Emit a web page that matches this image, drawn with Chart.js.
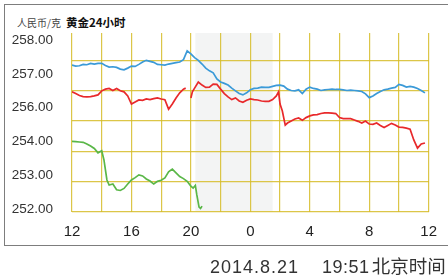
<!DOCTYPE html>
<html>
<head>
<meta charset="utf-8">
<script src="https://cdn.jsdelivr.net/npm/chart.js@4.4.0/dist/chart.umd.min.js"></script>
<style>
  html, body { margin: 0; padding: 0; background: #fff; }
  body { width: 448px; height: 277px; position: relative; overflow: hidden;
         font-family: "Liberation Sans", Arial, "Noto Sans CJK SC", sans-serif; }
  .frame { position: absolute; left: 4px; top: 4px; width: 470px; height: 240px;
           border: 1.5px solid #7d7d7d; border-right: none; }
  .title { position: absolute; left: 17px; top: 13px; white-space: nowrap; }
  .title .unit { font-size: 10px; color: #444; font-family: "Noto Sans CJK SC", sans-serif; }
  .title .name { font-size: 11.5px; color: #111; font-weight: bold; margin-left: 5px;
                 font-family: "Noto Sans CJK SC", sans-serif; }
  .stamp { position: absolute; left: 210px; top: 255px; font-size: 18px; line-height: 20px;
           color: #333; white-space: nowrap; }
  .stamp .date { letter-spacing: 1px; }
  .stamp .time { margin-left: 23px; letter-spacing: 0.5px; }
  .stamp .cn { margin-left: 2px; font-size: 18.5px; font-family: "Noto Sans CJK SC", sans-serif; }
  canvas { position: absolute; left: 0; top: 0; }
</style>
</head>
<body>
<div class="frame"></div>
<div class="title"><span class="unit">人民币/克</span><span class="name">黄金24小时</span></div>
<canvas id="chart" width="448" height="277"></canvas>
<div class="stamp"><span class="date">2014.8.21</span><span class="time">19:51</span><span class="cn">北京时间</span></div>
<script>
// hours run from 12 (noon) to 36 (noon next day)
var xTickLabels = ['12', '16', '20', '0', '4', '8', '12'];
var yTickValues = [253, 254, 255, 256, 257, 258];
var yTickLabels = ['252.00', '253.00', '254.00', '256.00', '257.00', '258.00'];

// shaded night session
var bandStart = 20.3;
var bandEnd = 25.5;

var blueHours = [12, 12.25, 12.5, 12.75, 13, 13.25, 13.5, 13.75, 14, 14.25, 14.5, 14.75, 15, 15.25, 15.5, 15.75,
  16, 16.25, 16.5, 16.75, 17, 17.25, 17.5, 17.75, 18, 18.25, 18.5, 18.75, 19, 19.25, 19.5, 19.75,
  20, 20.25, 20.5, 20.75, 21, 21.25, 21.5, 21.75, 22, 22.25, 22.5, 22.75, 23, 23.25, 23.5, 23.75,
  24, 24.25, 24.5, 24.75, 25, 25.25, 25.5, 25.75, 26, 26.25, 26.5, 26.75, 27, 27.25, 27.5, 27.75,
  28, 28.25, 28.5, 28.75, 29, 29.25, 29.5, 29.75, 30, 30.25, 30.5, 30.75, 31, 31.25, 31.5, 31.75,
  32, 32.25, 32.5, 32.75, 33, 33.25, 33.5, 33.75, 34, 34.25, 34.5, 34.75, 35, 35.25, 35.5, 35.75];
var blueValues = [257.26, 257.23, 257.24, 257.28, 257.27, 257.31, 257.29, 257.31, 257.31, 257.25, 257.20, 257.21, 257.19, 257.14, 257.12, 257.17,
  257.23, 257.22, 257.28, 257.35, 257.40, 257.37, 257.34, 257.28, 257.27, 257.26, 257.29, 257.31, 257.33, 257.35, 257.42, 257.68,
  257.59, 257.48, 257.40, 257.29, 257.17, 257.09, 257.03, 256.85, 256.76, 256.72, 256.67, 256.58, 256.50, 256.42, 256.38, 256.44,
  256.53, 256.57, 256.58, 256.61, 256.60, 256.60, 256.63, 256.66, 256.67, 256.64, 256.55, 256.51, 256.50, 256.53, 256.42, 256.55,
  256.61, 256.57, 256.55, 256.51, 256.53, 256.54, 256.55, 256.54, 256.54, 256.53, 256.51, 256.52, 256.51, 256.50, 256.48, 256.41,
  256.30, 256.35, 256.42, 256.48, 256.53, 256.55, 256.58, 256.60, 256.69, 256.66, 256.61, 256.63, 256.61, 256.57, 256.51, 256.44];

var redHours = [12, 12.25, 12.5, 12.75, 13, 13.25, 13.5, 13.75, 14, 14.25, 14.5, 14.75, 15, 15.25, 15.5, 15.75,
  16, 16.25, 16.5, 16.75, 17, 17.25, 17.5, 17.75, 18, 18.25, 18.5, 18.75, 19, 19.25, 19.5, 19.65, 19.8,
  20, 20.1, 20.25, 20.5, 20.75, 21, 21.25, 21.5, 21.75, 22, 22.25, 22.5, 22.75, 23, 23.25, 23.5, 23.75,
  24, 24.25, 24.5, 24.75, 25, 25.25, 25.5, 25.75, 25.9, 26, 26.15, 26.35, 26.5, 26.75, 27, 27.25, 27.5, 27.75,
  28, 28.25, 28.5, 28.75, 29, 29.25, 29.5, 29.75, 30, 30.25, 30.5, 30.75, 31, 31.25, 31.5, 31.75,
  32, 32.25, 32.5, 32.75, 33, 33.25, 33.5, 33.75, 34, 34.25, 34.5, 34.75, 35, 35.25, 35.5, 35.75];
var redValues = [256.47, 256.42, 256.36, 256.33, 256.32, 256.33, 256.35, 256.38, 256.50, 256.55, 256.57, 256.51, 256.57, 256.50, 256.47, 256.35,
  256.11, 256.17, 256.23, 256.22, 256.26, 256.24, 256.27, 256.29, 256.26, 256.24, 255.96, 256.11, 256.29, 256.44, 256.55, 256.58, null,
  256.29, 256.47, 256.58, 256.76, 256.67, 256.60, 256.61, 256.70, 256.69, 256.55, 256.42, 256.32, 256.24, 256.29, 256.20, 256.16, 256.22,
  256.26, 256.24, 256.23, 256.20, 256.19, 256.19, 256.24, 256.35, 256.47, 256.11, 255.91, 255.49, 255.55, 255.61, 255.67, 255.70, 255.63, 255.71,
  255.76, 255.79, 255.80, 255.83, 255.85, 255.85, 255.84, 255.83, 255.71, 255.68, 255.68, 255.68, 255.64, 255.60, 255.55, 255.61,
  255.52, 255.51, 255.55, 255.48, 255.42, 255.48, 255.54, 255.49, 255.43, 255.42, 255.40, 255.37, 255.05, 254.81, 254.93, 254.96];

var greenHours = [12, 12.25, 12.5, 12.75, 13, 13.25, 13.5, 13.75, 14, 14.15, 14.35, 14.5, 14.75, 15, 15.25, 15.5, 15.75,
  16, 16.25, 16.5, 16.75, 17, 17.25, 17.5, 17.75, 18, 18.25, 18.5, 18.75, 19, 19.25, 19.5, 19.75,
  20, 20.15, 20.3, 20.4, 20.55, 20.65, 20.75];
var greenValues = [254.01, 254.00, 253.99, 253.98, 253.93, 253.87, 253.80, 253.67, 253.73, 253.46, 252.87, 252.72, 252.75, 252.58, 252.56, 252.62, 252.75,
  252.87, 252.94, 253.02, 252.99, 252.90, 252.84, 252.75, 252.83, 252.86, 252.93, 253.11, 253.19, 253.08, 252.97, 252.91, 252.83,
  252.69, 252.63, 252.71, 252.43, 252.07, 252.03, 252.10];

function points(hours, values) {
    return hours.map(function(h, i) { return {x: h, y: values[i]}; });
}

var gridColor = 'rgba(214, 188, 40, 0.85)';

var bandPlugin = {
    id: 'nightBand',
    beforeDraw: function(chart) {
        var ctx = chart.ctx, area = chart.chartArea, x = chart.scales.x;
        var x0 = x.getPixelForValue(bandStart), x1 = x.getPixelForValue(bandEnd);
        ctx.save();
        ctx.fillStyle = '#f3f4f4';
        ctx.fillRect(x0, area.top, x1 - x0, area.bottom - area.top);
        ctx.restore();
    }
};

Chart.defaults.font.family = '"Liberation Sans", Arial, sans-serif';

new Chart(document.getElementById('chart'), {
    type: 'line',
    data: {
        datasets: [
            {data: points(blueHours, blueValues), borderColor: '#3b9ad8', yAxisID: 'y'},
            {data: points(redHours, redValues), borderColor: '#e8292b', yAxisID: 'y'},
            {data: points(greenHours, greenValues), borderColor: '#5ab748', yAxisID: 'y2'}
        ]
    },
    options: {
        responsive: false,
        animation: false,
        devicePixelRatio: 1,
        spanGaps: false,
        elements: {
            line: {borderWidth: 1.7, tension: 0},
            point: {radius: 0}
        },
        layout: {padding: {top: 33, left: 0, right: 10, bottom: 35.5}},
        plugins: {legend: {display: false}, tooltip: {enabled: false}},
        scales: {
            x: {
                type: 'linear', min: 12, max: 36,
                grid: {color: gridColor, lineWidth: 1.2, drawTicks: false},
                border: {display: false},
                ticks: {
                    stepSize: 2, autoSkip: false, maxRotation: 0, padding: 11,
                    color: '#222', font: {size: 15},
                    callback: function(v) {
                        return (v - 12) % 4 === 0 ? xTickLabels[(v - 12) / 4] : '';
                    }
                },
                afterFit: function(s) { s.height = 30; }
            },
            y: {
                type: 'linear', position: 'left', min: 252.94, max: 258.206,
                grid: {display: false},
                border: {display: false},
                afterBuildTicks: function(s) {
                    s.ticks = yTickValues.map(function(v) { return {value: v}; });
                },
                ticks: {
                    autoSkip: false, padding: 11, color: '#333', font: {size: 13.5},
                    callback: function(v, i) { return yTickLabels[i]; }
                },
                afterFit: function(s) { s.width = 72; }
            },
            y2: {
                type: 'linear', display: false, min: 251.94, max: 257.206
            },
            g: {
                type: 'linear', position: 'right', min: 0, max: 178.5 / 30.2,
                grid: {color: gridColor, lineWidth: 1.2, drawTicks: false},
                border: {display: false},
                afterBuildTicks: function(s) {
                    s.ticks = [0, 1, 2, 3, 4, 5].map(function(v) { return {value: v}; });
                },
                ticks: {display: false},
                afterFit: function(s) { s.width = 0; }
            }
        }
    },
    plugins: [bandPlugin]
});
</script>
</body>
</html>
